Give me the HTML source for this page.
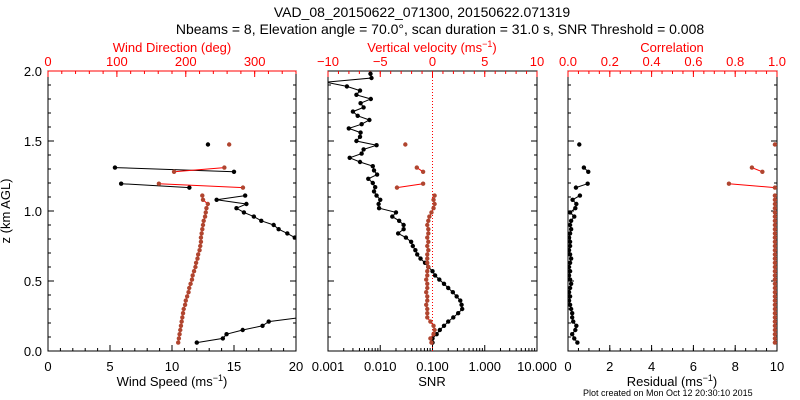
<!DOCTYPE html>
<html><head><meta charset="utf-8"><style>
body{margin:0;background:#fff}
svg{display:block;font-family:"Liberation Sans",sans-serif}
</style></head><body>
<svg id="c" width="800" height="400" viewBox="0 0 800 400">
<text x="422" y="17" font-size="14" text-anchor="middle">VAD_08_20150622_071300, 20150622.071319</text>
<text x="440" y="34" font-size="14" text-anchor="middle">Nbeams = 8, Elevation angle = 70.0°, scan duration = 31.0 s, SNR Threshold = 0.008</text>
<text x="10" y="211" font-size="13" text-anchor="middle" transform="rotate(-90 10 211)">z (km AGL)</text>
<text x="583" y="396" font-size="9">Plot created on Mon Oct 12 20:30:10 2015</text>
</svg>
<script>
// SNR profile (every level)
const snrZ=[0.06,0.09,0.12,0.15,0.18,0.21,0.24,0.27,0.30,0.33,0.36,0.39,0.42,0.45,0.48,0.51,0.54,0.57,0.60,0.63,0.66,0.69,0.72,0.75,0.78,0.81,0.84,0.87,0.90,0.93,0.96,0.99,1.02,1.05,1.08,1.11,1.14,1.17,1.20,1.23,1.26,1.29,1.32,1.35,1.38,1.41,1.44,1.47,1.50,1.53,1.56,1.59,1.62,1.65,1.68,1.71,1.74,1.77,1.80,1.83,1.86,1.89,1.92,1.95,1.98];
const snrVals=[0.10,0.10,0.12,0.138,0.166,0.20,0.25,0.31,0.37,0.36,0.34,0.29,0.245,0.20,0.166,0.135,0.112,0.10,0.083,0.072,0.059,0.051,0.047,0.042,0.039,0.031,0.022,0.028,0.028,0.023,0.017,0.020,0.0095,0.0093,0.010,0.0085,0.0076,0.008,0.0072,0.0059,0.0087,0.0076,0.0072,0.0041,0.0026,0.0044,0.0048,0.0085,0.0035,0.0041,0.0042,0.0025,0.0044,0.0062,0.0037,0.003,0.0048,0.0042,0.0066,0.0035,0.0041,0.0023,0.0009,0.0068,0.0065];
// Wind retrieval levels (null = gap)
const windZ=[0.06,0.09,0.12,0.15,0.18,0.21,0.24,0.27,0.30,0.33,0.36,0.39,0.42,0.45,0.48,0.51,0.54,0.57,0.60,0.63,0.66,0.69,0.72,0.75,0.78,0.81,0.84,0.87,0.90,0.93,0.96,0.99,1.02,1.05,1.08,1.11,null,1.167,1.195,null,1.28,1.31,null,1.475];
const windSpeed=[12.0,14.1,14.4,15.7,17.3,17.8,20.5,22,23,24,25,25,25,24,24,23,23,23,22,22,22,22,21,21,21,19.9,19.3,18.6,18.2,17.2,16.6,15.8,15.2,16.0,13.6,15.9,null,11.4,5.9,null,15.0,5.4,null,12.9];
const windDir=[189,190,191,192,193,194,195,196,197,199,200,202,204,205,207,209,210,212,214,215,217,218,220,221,222,222,223,224,225,226,228,229,230,232,225,224,null,283,161,null,183,256,null,263];
const wVel=[-0.1,-0.2,0.1,0.2,0.1,-0.2,-0.5,-0.5,-0.5,-0.6,-0.5,-0.5,-0.6,-0.5,-0.5,-0.6,-0.5,-0.5,-0.4,-0.5,-0.5,-0.5,-0.4,-0.5,-0.4,-0.5,-0.4,-0.4,-0.5,-0.4,-0.3,-0.1,0.1,0.2,0.1,0.2,null,-3.4,-0.9,null,-0.9,-1.5,null,-2.6];
const residual=[0.45,0.3,0.2,0.35,0.4,0.25,0.2,0.2,0.15,0.1,0.05,0.1,0.05,0.1,0.15,0.1,0.05,0.1,0.05,0.1,0.15,0.1,0.05,0.1,0.1,0.05,0.1,0.15,0.1,0.15,0.3,0.1,0.35,0.4,0.22,0.57,null,0.38,0.94,null,0.97,0.76,null,0.54];
const correl=[0.99,0.99,0.99,0.99,0.99,0.99,0.99,0.99,0.99,0.99,0.99,0.99,0.99,0.99,0.99,0.99,0.99,0.99,0.99,0.99,0.99,0.99,0.99,0.99,0.99,0.99,0.99,0.99,0.99,0.99,0.99,0.99,0.99,0.99,0.99,0.99,null,0.99,0.77,null,0.93,0.88,null,0.99];
const yTicks=[0.0,0.5,1.0,1.5,2.0];
const speedTicks=[0,5,10,15,20];
const dirTicks=[0,100,200,300];
const velTicks=[-10,-5,0,5,10];
const snrTicks=[0.001,0.01,0.1,1,10];
const snrTickLabels=["0.001","0.010","0.100","1.000","10.000"];
const resTicks=[0,2,4,6,8,10];
const corTicks=[0,0.2,0.4,0.6,0.8,1.0];

const NS='http://www.w3.org/2000/svg';
const svg=document.getElementById('c');
const T=71,B=351;
const BR='#b0452f',RED='#ff0000';
function el(tag,at,parent){const e=document.createElementNS(NS,tag);for(const k in at)e.setAttribute(k,at[k]);(parent||svg).appendChild(e);return e;}
const yS=z=>B-(z/2)*(B-T);
function lin(d0,d1,r0,r1){return v=>r0+(v-d0)/(d1-d0)*(r1-r0);}
function logS(d0,d1,r0,r1){return v=>r0+(Math.log10(v)-Math.log10(d0))/(Math.log10(d1)-Math.log10(d0))*(r1-r0);}

const panels=[[48,296],[328,537],[568,777]];
panels.forEach((p,i)=>{
  const f=el('rect',{x:p[0],y:T,width:p[1]-p[0],height:B-T,fill:'none',stroke:'#000','stroke-width':1});
  
  
  const cp=el('clipPath',{id:'clip'+i});
  el('rect',{x:p[0],y:T,width:p[1]-p[0],height:B-T},cp);
  for(let z=0;z<=2.0001;z+=0.1){
    const maj=Math.abs(z*2-Math.round(z*2))<1e-6;const L=maj?6:3;const y=yS(z);
    el('line',{x1:p[0],x2:p[0]+L,y1:y,y2:y,stroke:'#000'});
    el('line',{x1:p[1],x2:p[1]-L,y1:y,y2:y,stroke:'#000'});
  }
});
yTicks.forEach(v=>{const t=el('text',{x:42,y:yS(v)+5,'font-size':13,'text-anchor':'end'});t.textContent=v.toFixed(1);
  
  });

function xAxis(x0,x1,scale,ticks,labels,minorStep,d0,d1,top,color,name,redLine){
  const y=top?T:B;const dir=top?1:-1;
  if(top&&redLine)el('line',{x1:x0,x2:x1,y1:T,y2:T,stroke:color});
  for(let v=d0;v<=d1+1e-9;v+=minorStep){const x=scale(v);el('line',{x1:x,x2:x,y1:y,y2:y+dir*3,stroke:color});}
  ticks.forEach((v,i)=>{const x=scale(v);el('line',{x1:x,x2:x,y1:y,y2:y+dir*6,stroke:color});
    const t=el('text',{x:x,y:top?T-5:B+20,'font-size':13,'text-anchor':'middle',fill:color});t.textContent=labels[i];
    
    });
}
// Panel 1
const sx=lin(0,20,48,296), dx=lin(0,360,48,296);
xAxis(48,296,sx,speedTicks,speedTicks.map(String),1,0,20,false,'#000','speed',false);
xAxis(48,296,dx,dirTicks,dirTicks.map(String),20,0,360,true,RED,'direction',true);
// Panel 2
const snx=logS(0.001,10,328,537), vx=lin(-10,10,328,537);
for(let d=-3;d<1;d++){for(let m=1;m<10;m++){const x=snx(m*Math.pow(10,d));el('line',{x1:x,x2:x,y1:B,y2:B-(m===1?6:3),stroke:'#000'});}}
snrTicks.forEach((v,i)=>{const t=el('text',{x:snx(v),y:B+20,'font-size':13,'text-anchor':'middle'});t.textContent=snrTickLabels[i];
  
  });
xAxis(328,537,vx,velTicks,velTicks.map(v=>v<0?'\u2212'+(-v):String(v)),1,-10,10,true,RED,'velocity',false);
el('line',{x1:vx(0),x2:vx(0),y1:T,y2:B,stroke:RED,'stroke-dasharray':'1,2'});
// Panel 3
const rx=lin(0,10,568,777), cx=lin(0,1,568,777);
xAxis(568,777,rx,resTicks,resTicks.map(String),0.5,0,10,false,'#000','residual',false);
xAxis(568,777,cx,corTicks,corTicks.map(v=>v.toFixed(1)),0.05,0,1,true,RED,'correlation',true);

function title(x,y,html,color,name){const t=el('text',{x:x,y:y,'font-size':13,'text-anchor':'middle',fill:color});t.innerHTML=html;
  
  }
title(172,52,'Wind Direction (deg)',RED,'direction-axis-title');
title(432,52,'Vertical velocity (ms<tspan dy="-5" font-size="9">−1</tspan><tspan dy="5">)</tspan>',RED,'velocity-axis-title');
title(672,52,'Correlation',RED,'correlation-axis-title');
title(172,386,'Wind Speed (ms<tspan dy="-5" font-size="9">−1</tspan><tspan dy="5">)</tspan>','#000','speed-axis-title');
title(432,386,'SNR','#000','snr-axis-title');
title(672,386,'Residual (ms<tspan dy="-5" font-size="9">−1</tspan><tspan dy="5">)</tspan>','#000','residual-axis-title');

function series(zs,vals,xs,lineC,dotC,clip,name){
  const g=el('g',{'clip-path':'url(#clip'+clip+')'});
  
  
  let d='',pen=false;
  zs.forEach((z,i)=>{const v=vals[i];if(z===null||v===null){pen=false;return;}
    d+=(pen?'L':'M')+xs(v).toFixed(1)+','+yS(z).toFixed(1);pen=true;});
  el('path',{d:d,fill:'none',stroke:lineC,'stroke-width':1},g);
  zs.forEach((z,i)=>{const v=vals[i];if(z===null||v===null)return;
    const c=el('circle',{cx:xs(v),cy:yS(z),r:2.2,fill:dotC},g);
    
    });
}
series(windZ,windSpeed,sx,'#000','#000',0,'wind-speed-series');
series(windZ,windDir,dx,RED,BR,0,'wind-direction-series');
series(snrZ,snrVals,snx,'#000','#000',1,'snr-series');
series(windZ,wVel,vx,RED,BR,1,'vertical-velocity-series');
series(windZ,residual,rx,'#000','#000',2,'residual-series');
series(windZ,correl,cx,RED,BR,2,'correlation-series');
</script>
</body></html>
